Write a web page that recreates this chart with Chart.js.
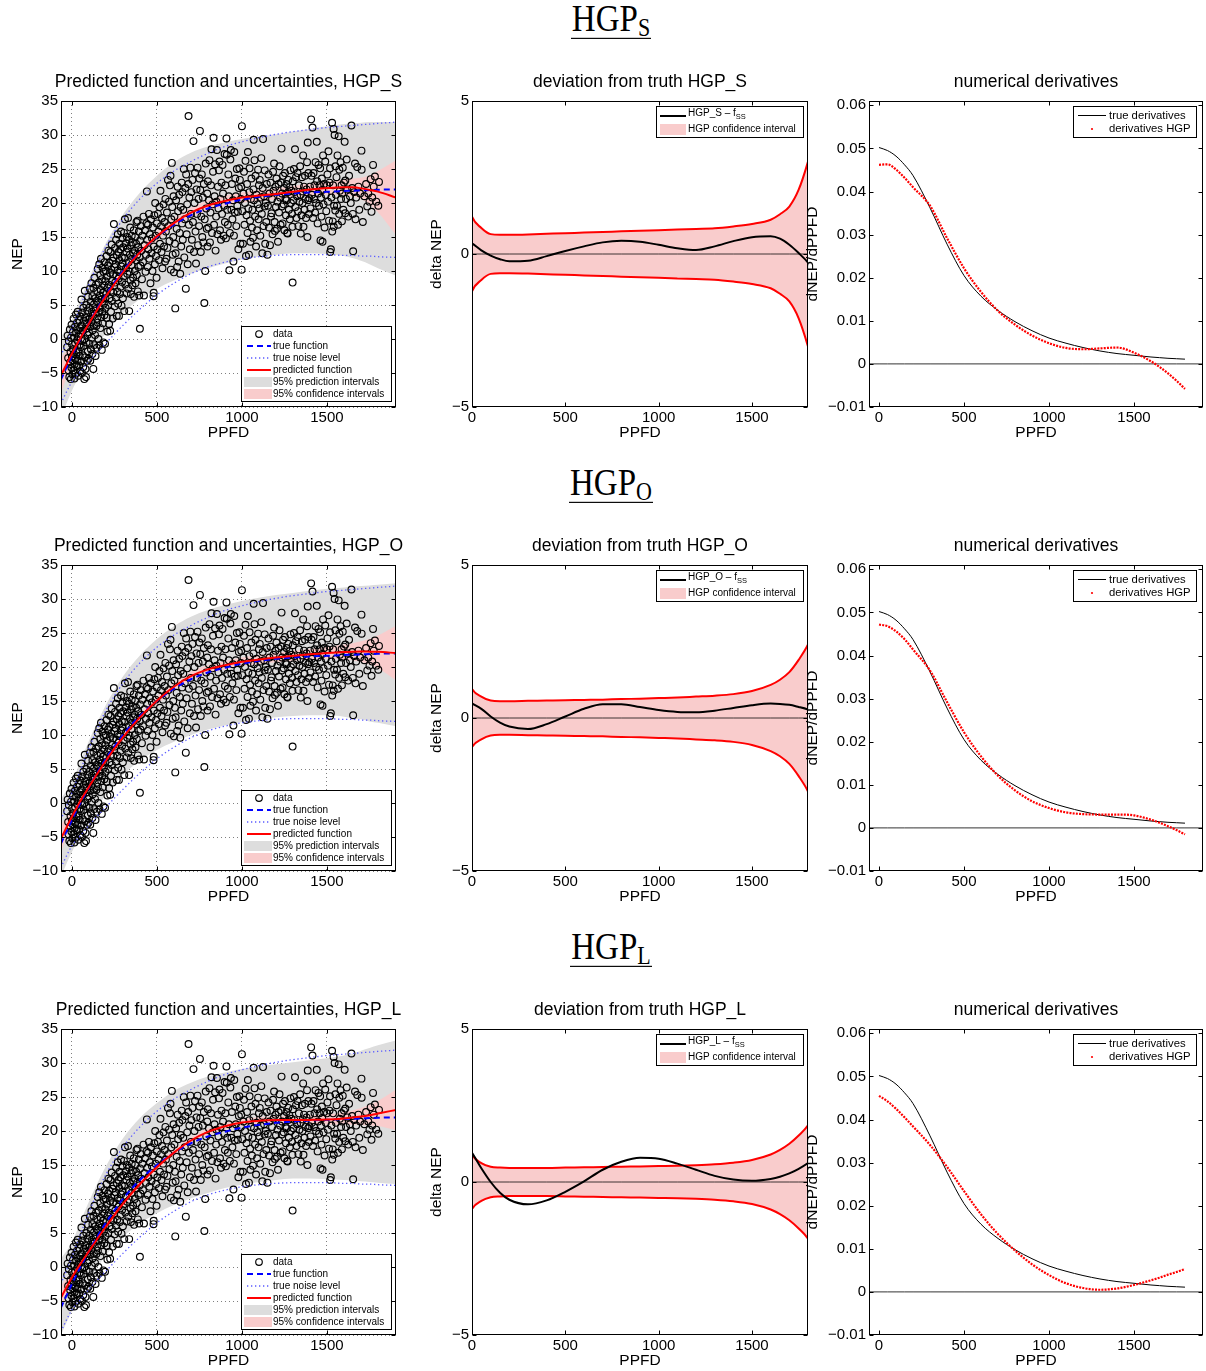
<!DOCTYPE html>
<html><head><meta charset="utf-8">
<script src="https://cdn.jsdelivr.net/npm/chart.js@4"></script>
<style>
html,body{margin:0;padding:0;background:#fff;}
body{width:1206px;height:1371px;overflow:hidden;position:relative;font-family:"Liberation Sans",Arial,sans-serif;}
canvas{position:absolute;}
.hdr{position:absolute;left:0;width:1222px;text-align:center;font-family:"Liberation Serif","DejaVu Serif",serif;color:#000;}
.hdr span{display:inline-block;font-size:33px;line-height:30px;padding:0 1px 2px 1px;border-bottom:1.5px solid #000;transform:scaleY(1.15);transform-origin:50% 0;}
.hdr sub{font-size:22px;line-height:0;vertical-align:baseline;position:relative;top:4px;}
</style>
</head><body>
<div class="hdr" style="top:1px"><span>HGP<sub>S</sub></span></div>
<div class="hdr" style="top:465px"><span>HGP<sub>O</sub></span></div>
<div class="hdr" style="top:929px"><span>HGP<sub>L</sub></span></div>
<script>
const FONT = '"Liberation Sans", Arial, Helvetica, sans-serif';

// ---------- tick labels ----------
const xTicksPPFD = [0, 500, 1000, 1500];
const yTicksNEP = [-10, -5, 0, 5, 10, 15, 20, 25, 30, 35];
const yTicksDelta = [-5, 0, 5];
const yTicksDeriv = [-0.01, 0, 0.01, 0.02, 0.03, 0.04, 0.05, 0.06];

// ---------- curve sample grid (PPFD) ----------
const X = [-65,0,50,100,150,200,300,400,500,600,700,800,900,1000,1100,1200,1300,1400,1500,1600,1650,1700,1750,1800,1906];

// true function and true noise level
const trueNEP  = [-6.0,-2.5,0.0,2.3,4.5,6.5,10.0,12.8,15.0,16.8,18.2,19.2,19.9,20.5,20.9,21.2,21.4,21.55,21.65,21.75,21.8,21.85,21.9,21.95,22.0];
const noiseUp  = [-2.5,1.5,4.8,8.0,11.0,13.6,17.6,20.6,22.9,24.7,26.1,27.3,28.3,29.0,29.6,30.1,30.5,30.8,31.1,31.3,31.4,31.5,31.6,31.7,31.9];
const noiseLo  = [-9.5,-6.3,-4.8,-3.3,-1.9,-0.6,2.0,4.4,6.5,8.2,9.6,10.6,11.3,11.8,12.1,12.3,12.4,12.4,12.4,12.3,12.3,12.2,12.2,12.1,12.0];

// deviation from truth (prediction - truth)
const diffS = [0.6,0.35,0.12,-0.05,-0.17,-0.24,-0.22,-0.07,0.10,0.25,0.38,0.43,0.40,0.30,0.19,0.13,0.25,0.42,0.55,0.58,0.50,0.30,0.03,-0.28,-1.2];
const diffO = [0.75,0.48,0.30,0.05,-0.15,-0.28,-0.36,-0.20,0.05,0.30,0.45,0.45,0.36,0.26,0.20,0.19,0.24,0.33,0.42,0.47,0.46,0.43,0.36,0.28,0.05];
const diffL = [1.45,0.95,0.45,0.0,-0.35,-0.58,-0.73,-0.60,-0.32,0.02,0.40,0.66,0.79,0.76,0.60,0.40,0.20,0.08,0.04,0.10,0.17,0.28,0.43,0.62,1.1];

// 95% confidence half-widths
const ciS = [2.7,1.22,0.85,0.65,0.63,0.63,0.64,0.66,0.68,0.70,0.72,0.74,0.76,0.78,0.80,0.82,0.84,0.90,0.98,1.12,1.30,1.55,2.10,3.02,5.5];
const ciO = [2.0,0.95,0.70,0.57,0.55,0.55,0.56,0.57,0.58,0.59,0.60,0.62,0.63,0.65,0.67,0.70,0.73,0.78,0.88,1.08,1.25,1.50,1.90,2.40,4.0];
const ciL = [1.8,0.88,0.62,0.50,0.47,0.46,0.46,0.46,0.47,0.48,0.49,0.50,0.51,0.52,0.53,0.55,0.58,0.63,0.72,0.90,1.05,1.25,1.52,1.85,3.0];

// 95% prediction intervals
const piUpS = [0.3,2.8,5.8,8.8,11.6,14.1,18.3,21.5,24.0,26.0,27.4,28.3,28.9,29.4,29.8,30.1,30.5,30.9,31.3,31.6,31.7,31.8,31.9,31.9,31.9];
const piLoS = [-11.5,-7.6,-5.1,-2.9,-0.9,0.9,3.8,5.9,7.4,8.6,9.6,10.4,11.1,11.7,12.1,12.4,12.6,12.6,12.5,12.2,11.9,11.5,11.0,10.4,9.3];
const piUpO = [0.6,3.1,6.1,9.1,11.9,14.4,18.6,21.7,24.1,26.0,27.4,28.4,29.1,29.7,30.2,30.6,30.9,31.2,31.5,31.7,31.8,31.9,32.0,32.1,32.3];
const piLoO = [-10.8,-7.2,-4.7,-2.5,-0.6,1.2,4.1,6.2,7.8,9.0,10.0,10.8,11.4,11.9,12.3,12.6,12.8,12.9,12.9,12.7,12.5,12.3,12.0,11.8,11.3];
const piUpL = [1.2,3.6,6.6,9.6,12.3,14.8,18.9,21.9,24.1,25.9,27.1,28.0,28.6,29.1,29.5,29.8,30.1,30.4,30.7,31.1,31.4,31.8,32.2,32.6,33.3];
const piLoL = [-10.0,-6.5,-4.0,-1.8,0.0,1.7,4.4,6.4,7.9,9.1,10.1,10.9,11.6,12.1,12.5,12.8,13.0,13.0,12.9,12.8,12.7,12.6,12.5,12.4,12.2];

// numerical derivatives
const XD = [0,50,100,150,200,300,400,500,600,700,800,900,1000,1100,1200,1300,1400,1500,1600,1650,1700,1750,1800];
const dTrue = [0.0502,0.0495,0.0482,0.0462,0.0437,0.0362,0.0278,0.0205,0.0157,0.0124,0.0098,0.0077,0.0060,0.0048,0.0038,0.0030,0.0024,0.0020,0.0016,0.00145,0.0013,0.0012,0.0011];
const dS = [0.0462,0.0463,0.0451,0.0432,0.0410,0.0367,0.0292,0.0222,0.0167,0.0123,0.0091,0.0066,0.0048,0.0037,0.0034,0.0036,0.0038,0.0026,0.0006,-0.0007,-0.0022,-0.0039,-0.0058];
const dO = [0.0472,0.0468,0.0456,0.0438,0.0414,0.0365,0.0292,0.0222,0.0166,0.0121,0.0087,0.0062,0.0046,0.0036,0.0032,0.0031,0.0031,0.0029,0.0019,0.0012,0.0004,-0.0005,-0.0015];
const dL = [0.0455,0.0442,0.0425,0.0405,0.0384,0.0341,0.0290,0.0234,0.0180,0.0134,0.0096,0.0064,0.0039,0.0020,0.0009,0.0005,0.0008,0.0016,0.0027,0.0033,0.0040,0.0046,0.0053];

// observed data [PPFD, NEP]
const obs = [
[-28,-1.2],[-25,0.5],[-22,-2.8],[-20,-4.6],[-18,-0.3],[-15,-5.6],[-12,1.4],[-10,-3.4],[-8,-1.9],[-6,-5.9],[-5,0.2],[-3,-4.2],[-2,2.1],[0,-2.6],[1,-0.8],
[3,-5.2],[4,-3.1],[6,1.0],[7,-1.5],[9,-4.6],[10,3.0],[12,-2.2],[13,0.2],[15,-5.8],[16,-3.7],[18,1.8],[19,-0.6],[21,-2.9],[22,-5.1],[24,3.6],[25,0.9],[27,-1.6],[28,-4.0],[30,2.4],[31,-0.2],[33,-3.2],[34,4.0],[36,1.3],[37,-5.4],[39,-1.9],[40,0.4],[42,-3.9],[43,2.8],[45,-0.9],[46,-2.5],[48,1.6],[49,-4.7],[50,3.3],
[52,-1.2],[53,0.8],[55,-3.3],[56,5.8],[58,2.0],[59,-5.0],[61,-0.3],[62,3.9],[64,-2.4],[65,1.2],[67,-4.1],[68,4.6],[70,-1.0],[71,2.7],[73,-5.9],[74,0.0],[76,7.1],[77,-2.7],[79,3.2],[80,-4.4],[82,1.5],[83,-5.6],[85,5.0],[86,-0.5],[88,2.3],[89,-3.2],[91,4.2],[92,0.6],[94,-1.8],[95,6.2],[97,2.9],[98,-2.9],[100,1.0],
[102,4.6],[103,-0.7],[105,3.0],[106,7.4],[108,-3.2],[109,1.8],[111,5.5],[112,-1.5],[114,2.5],[115,8.2],[117,0.2],[118,4.0],[120,-2.2],[121,6.3],[123,1.3],[124,3.4],[126,-4.4],[127,7.5],[129,2.0],[130,5.1],[132,-0.9],[133,9.0],[135,3.7],[136,0.6],[138,6.0],[139,-2.5],[141,4.4],[142,8.0],[144,1.9],[145,5.6],[147,-1.3],[148,3.0],[150,7.0],
[152,10.3],[153,2.4],[155,5.4],[156,0.0],[158,8.3],[159,3.9],[161,11.0],[162,-0.9],[164,6.4],[165,4.6],[167,9.4],[168,1.6],[170,7.2],[171,11.8],[173,3.2],[174,5.8],[176,-1.6],[177,8.8],[179,4.0],[180,10.5],[182,2.3],[183,6.8],[185,-0.5],[186,9.9],[188,5.2],[189,7.9],[191,3.5],[192,11.3],[194,6.0],[195,-0.7],[197,8.5],[198,4.6],[200,10.0],
[202,6.7],[204,12.2],[205,3.1],[207,9.2],[209,1.1],[210,7.5],[212,10.8],[214,5.0],[215,13.0],[217,8.0],[219,2.2],[220,11.2],[222,6.0],[224,9.7],[225,1.2],[227,12.8],[229,7.1],[230,4.0],[232,10.2],[234,13.9],[235,5.6],[237,8.6],[239,11.5],[240,3.0],[242,9.5],[244,6.8],[245,12.0],[247,16.9],[249,7.8],[250,10.6],
[252,4.8],[254,13.4],[255,8.3],[257,11.0],[259,6.1],[260,14.6],[262,9.3],[264,3.4],[265,12.3],[267,7.0],[269,10.1],[270,15.4],[272,5.2],[274,12.8],[275,8.9],[277,3.4],[279,11.6],[280,14.0],[282,6.6],[284,9.8],[285,13.2],[287,7.7],[289,15.8],[290,10.7],[292,4.9],[294,12.0],[295,8.4],[297,14.8],[299,11.1],[300,6.0],
[302,13.5],[304,9.2],[306,15.6],[308,4.1],[310,11.9],[312,17.6],[314,8.0],[316,14.1],[318,10.4],[320,12.8],[322,6.7],[324,15.0],[326,9.6],[328,13.3],[330,17.8],[332,7.4],[334,11.3],[336,14.6],[337,4.1],[339,9.9],[341,12.4],[343,16.4],[345,8.6],[347,6.6],[348,13.8],[350,10.9],
[352,15.2],[354,11.8],[356,7.9],[358,14.2],[360,9.0],[362,12.6],[364,16.0],[366,6.2],[368,13.0],[370,10.0],[372,15.0],[374,8.2],[376,11.6],[378,14.0],[380,17.2],[382,9.4],[384,12.4],[386,17.4],[388,7.0],[390,13.5],[392,10.6],[394,15.8],[396,6.4],[398,12.0],[400,1.5],[401,14.5],
[403,10.8],[406,16.6],[409,13.0],[412,8.8],[415,15.2],[418,11.3],[421,18.0],[424,6.4],[427,13.8],[430,16.0],[433,9.9],[436,12.4],[439,17.0],[441,21.7],[443,14.6],[446,10.6],[448,16.8],[450,13.2],
[453,18.4],[456,11.8],[459,15.4],[462,8.2],[465,17.6],[468,12.6],[471,14.8],[474,10.0],[477,16.4],[480,6.3],[481,6.8],[482,13.6],[485,18.2],[488,11.0],[490,20.0],[492,15.2],[495,12.2],[498,9.0],[500,17.0],
[503,13.2],[506,18.4],[509,15.8],[512,11.6],[515,19.4],[518,14.0],[521,21.8],[524,16.6],[527,12.8],[530,17.8],[533,10.4],[536,15.2],[539,19.8],[542,13.6],[545,17.2],[548,11.4],[550,20.6],
[553,15.8],[556,11.8],[559,18.6],[562,13.4],[565,23.4],[568,16.6],[571,20.2],[574,14.4],[577,22.6],[580,24.0],[582,10.2],[585,17.6],[588,25.9],[590,19.4],[593,12.4],[596,15.0],[598,21.0],[600,9.8],
[603,18.0],[606,14.0],[608,4.5],[610,12.6],[613,20.4],[616,16.2],[619,10.6],[622,22.4],[625,18.8],[628,11.4],[631,21.2],[634,15.6],[637,9.6],[640,19.4],[643,13.6],[646,23.0],[648,17.0],[650,21.6],
[652,14.6],[655,19.0],[658,25.0],[661,12.0],[664,17.6],[667,22.2],[670,7.4],[672,24.2],[675,15.4],[678,19.8],[681,11.0],[684,22.8],[686,32.8],[688,16.8],[691,20.8],[694,13.2],[697,25.2],[700,18.4],
[703,21.6],[706,14.6],[709,23.4],[712,17.2],[715,29.1],[718,12.8],[721,20.0],[724,24.4],[727,15.8],[730,11.1],[733,22.0],[736,18.4],[739,25.2],[742,13.8],[745,20.6],[748,16.6],[750,23.6],
[753,30.6],[755,21.9],[758,12.8],[761,18.0],[764,24.2],[767,15.0],[770,20.8],[773,14.2],[776,22.8],[779,5.3],[781,17.6],[784,10.0],[787,25.8],[790,19.2],[793,16.2],[796,21.4],[798,13.6],[800,23.2],
[803,16.4],[806,20.4],[809,26.3],[812,14.2],[815,18.6],[818,22.6],[821,27.9],[824,15.6],[827,19.8],[830,24.6],[833,29.6],[836,16.8],[839,21.0],[842,25.7],[845,13.0],[848,18.0],[850,20.2],
[853,27.8],[856,15.4],[859,22.4],[862,19.2],[865,24.8],[868,26.1],[871,16.0],[874,20.6],[877,14.6],[880,23.0],[883,18.4],[886,25.6],[889,21.4],[892,15.2],[895,19.6],[898,27.2],[900,17.2],
[903,22.6],[906,14.8],[909,29.5],[911,27.1],[914,19.0],[917,16.8],[920,24.2],[923,21.0],[926,10.1],[929,15.6],[932,26.4],[935,27.8],[938,19.0],[941,22.8],[944,17.6],[947,20.4],[950,11.4],
[953,15.2],[955,27.5],[958,18.6],[961,23.6],[964,21.0],[967,16.6],[970,25.0],[973,19.6],[976,18.7],[979,13.2],[982,22.2],[985,25.1],[988,23.4],[991,14.0],[994,20.6],[996,22.4],[998,10.2],[1000,31.3],
[1003,18.8],[1006,14.0],[1009,21.4],[1012,24.6],[1015,16.8],[1018,20.0],[1021,26.2],[1024,12.2],[1027,18.2],[1030,22.8],[1033,15.6],[1035,27.5],[1038,19.2],[1041,12.4],[1044,21.6],[1045,25.1],[1048,17.4],[1050,14.3],
[1053,20.6],[1056,23.6],[1059,16.4],[1062,19.0],[1065,14.9],[1068,22.0],[1069,29.3],[1071,20.4],[1074,26.3],[1077,18.0],[1080,24.0],[1083,13.6],[1086,21.2],[1089,16.0],[1092,19.8],[1095,24.9],[1098,17.6],[1100,22.6],
[1103,19.2],[1105,23.4],[1108,15.2],[1111,20.8],[1114,26.6],[1117,18.4],[1120,12.6],[1122,22.2],[1124,29.4],[1127,16.6],[1130,21.0],[1133,19.5],[1134,24.8],[1137,14.0],[1140,20.0],[1143,17.2],[1146,22.8],[1150,12.4],
[1153,19.6],[1156,24.2],[1159,16.4],[1162,21.4],[1165,13.8],[1168,23.0],[1171,18.0],[1174,18.5],[1177,20.6],[1180,15.4],[1183,24.6],[1186,21.8],[1189,25.8],[1192,17.2],[1194,15.9],[1197,22.4],[1200,19.4],
[1203,23.6],[1206,16.2],[1209,20.2],[1212,14.3],[1215,22.8],[1218,18.6],[1221,25.4],[1224,20.8],[1227,16.8],[1230,23.0],[1233,28.0],[1234,19.5],[1236,21.4],[1239,17.0],[1242,24.0],[1245,19.8],[1248,22.2],[1250,16.0],
[1253,24.4],[1256,20.6],[1259,18.2],[1262,22.8],[1263,20.4],[1266,15.6],[1269,15.5],[1272,21.6],[1273,23.4],[1276,19.0],[1279,22.3],[1282,17.6],[1285,24.8],[1288,20.0],[1291,21.8],[1294,18.4],[1297,16.5],[1298,8.3],[1300,23.2],
[1303,20.4],[1306,25.0],[1309,21.6],[1312,27.9],[1315,19.4],[1318,23.8],[1321,17.8],[1324,21.0],[1327,24.4],[1330,18.8],[1332,16.6],[1335,22.6],[1338,20.2],[1342,25.4],[1345,21.2],[1346,15.5],[1350,18.2],
[1353,23.8],[1356,20.0],[1358,21.7],[1360,27.0],[1362,16.5],[1365,22.4],[1368,19.0],[1371,24.0],[1374,20.6],[1377,17.8],[1380,22.0],[1383,26.0],[1385,15.0],[1387,28.9],[1390,20.4],[1391,24.4],[1394,18.4],[1397,20.7],[1400,22.4],
[1403,19.2],[1407,32.3],[1409,24.0],[1412,21.2],[1415,31.1],[1418,17.8],[1421,24.4],[1424,20.6],[1427,22.6],[1430,18.6],[1433,26.0],[1436,20.0],[1440,29.0],[1442,23.2],[1445,17.0],[1448,21.4],[1450,25.6],
[1453,19.6],[1456,22.6],[1460,25.1],[1462,14.5],[1465,20.8],[1468,18.0],[1470,23.6],[1472,21.9],[1474,14.3],[1477,27.0],[1480,19.8],[1483,22.8],[1486,16.4],[1490,26.1],[1493,21.2],[1496,18.8],[1500,22.6],
[1503,24.2],[1506,20.2],[1509,27.6],[1512,17.4],[1515,23.0],[1518,25.1],[1519,12.8],[1523,13.2],[1526,20.8],[1530,31.8],[1531,15.8],[1534,17.3],[1536,22.6],[1539,30.9],[1540,16.5],[1542,19.6],[1545,30.0],[1549,18.9],[1550,25.4],
[1553,21.2],[1556,23.8],[1559,19.6],[1562,27.0],[1565,16.8],[1569,29.8],[1572,18.4],[1573,24.9],[1576,21.8],[1580,26.0],[1583,20.6],[1586,22.6],[1588,17.3],[1589,21.4],[1593,25.2],[1596,19.0],[1600,23.0],
[1604,29.0],[1607,18.5],[1608,23.3],[1612,20.6],[1616,26.4],[1620,22.0],[1625,18.0],[1630,24.0],[1635,21.0],[1640,20.0],[1644,31.4],[1648,22.2],[1652,18.4],[1654,12.9],[1660,21.6],[1665,25.8],[1668,17.6],[1672,20.8],[1678,25.3],[1685,22.4],[1690,19.0],[1695,21.4],[1703,27.7],[1704,24.9],
[1711,17.2],[1720,21.0],[1730,22.8],[1737,19.5],[1743,21.4],[1750,20.2],[1757,23.5],[1762,18.7],[1766,20.8],[1771,25.6],[1775,22.4],[1782,23.9],[1790,20.2],[1802,19.6],[1806,23.1]
];

// ---------- helpers ----------
const pts = (xs, ys) => xs.map((x, i) => ({x: x, y: ys[i]}));
const add = (a, b, s) => a.map((v, i) => v + s * b[i]);
function fmtTick(v, dec) {
  if (Math.abs(v) < 1e-9) return '0';
  return v.toFixed(dec).replace('-', '\u2212');
}
const CH = 385, XAXIS_H = 38, TOP_PAD = 41;
const PINK = 'rgb(249,204,204)', GRAY = 'rgb(221,221,221)';

function mkCanvas(left, top, w) {
  const c = document.createElement('canvas');
  c.width = w; c.height = CH;
  c.style.left = left + 'px'; c.style.top = top + 'px';
  c.style.width = w + 'px'; c.style.height = CH + 'px';
  document.body.appendChild(c);
  return c;
}

function axisX(min, max, showGrid) {
  return {
    type: 'linear', min: min, max: max,
    afterBuildTicks: s => { s.ticks = xTicksPPFD.map(v => ({value: v})); },
    afterFit: s => { s.height = XAXIS_H; },
    grid: {display: showGrid, drawTicks: false, color: 'rgba(0,0,0,0.5)', lineWidth: 1},
    border: {display: false, dash: [1, 3]},
    ticks: {padding: 2, color: '#000', font: {family: FONT, size: 15}, maxRotation: 0, autoSkip: false, callback: v => fmtTick(v, 0)},
    title: {display: true, text: 'PPFD', color: '#000', font: {family: FONT, size: 15.5}, padding: {top: 0, bottom: 3}}
  };
}
function axisY(min, max, tickArr, dec, width, title, titlePad, showGrid) {
  return {
    type: 'linear', min: min, max: max,
    afterBuildTicks: s => { s.ticks = tickArr.map(v => ({value: v})); },
    afterFit: s => { s.width = width; },
    grid: {display: showGrid, drawTicks: false, color: 'rgba(0,0,0,0.5)', lineWidth: 1},
    border: {display: false, dash: [1, 3]},
    ticks: {padding: 3, color: '#000', font: {family: FONT, size: 15}, autoSkip: false, callback: v => fmtTick(v, dec)},
    title: {display: true, text: title, color: '#000', font: {family: FONT, size: 15.5}, padding: {top: titlePad, bottom: 0}}
  };
}

function hline(ctx, x1, x2, y) { ctx.beginPath(); ctx.moveTo(x1, y); ctx.lineTo(x2, y); ctx.stroke(); }

function legendLeft(ctx, a) {
  const w = 150, h = 75;
  const bx = Math.round(a.right) - 5 - w, by = Math.round(a.bottom) - 6 - h;
  ctx.fillStyle = '#fff'; ctx.fillRect(bx, by, w, h);
  ctx.strokeStyle = '#000'; ctx.lineWidth = 1; ctx.setLineDash([]);
  ctx.strokeRect(bx + 0.5, by + 0.5, w, h);
  const ry = i => by + 8 + 12 * i;
  ctx.lineWidth = 1.15;
  ctx.beginPath(); ctx.arc(bx + 18, ry(0), 3.3, 0, 2 * Math.PI); ctx.stroke();
  ctx.strokeStyle = '#0000ff'; ctx.lineWidth = 2; ctx.setLineDash([6, 4]); hline(ctx, bx + 6, bx + 30, ry(1));
  ctx.strokeStyle = 'rgb(90,90,255)'; ctx.lineWidth = 1.3; ctx.setLineDash([1.3, 2.7]); hline(ctx, bx + 6, bx + 30, ry(2));
  ctx.setLineDash([]); ctx.strokeStyle = '#ff0000'; ctx.lineWidth = 2; hline(ctx, bx + 6, bx + 30, ry(3));
  ctx.fillStyle = GRAY; ctx.fillRect(bx + 3, ry(4) - 5, 28, 10);
  ctx.fillStyle = PINK; ctx.fillRect(bx + 3, ry(5) - 5, 28, 10);
  ctx.fillStyle = '#000'; ctx.font = '10px ' + FONT; ctx.textBaseline = 'middle'; ctx.textAlign = 'left';
  ['data', 'true function', 'true noise level', 'predicted function', '95% prediction intervals', '95% confidence intervals']
    .forEach((t, i) => ctx.fillText(t, bx + 32, ry(i) + 0.5));
}
function legendMid(ctx, a, name) {
  const w = 147, h = 31;
  const bx = Math.round(a.right) - 5 - w, by = Math.round(a.top) + 5;
  ctx.fillStyle = '#fff'; ctx.fillRect(bx, by, w, h);
  ctx.strokeStyle = '#000'; ctx.lineWidth = 1; ctx.setLineDash([]);
  ctx.strokeRect(bx + 0.5, by + 0.5, w, h);
  ctx.lineWidth = 2; hline(ctx, bx + 4, bx + 30, by + 10);
  ctx.fillStyle = PINK; ctx.fillRect(bx + 4, by + 18, 26, 11);
  ctx.fillStyle = '#000'; ctx.textBaseline = 'middle'; ctx.textAlign = 'left';
  ctx.font = '10px ' + FONT;
  const t1 = 'HGP_' + name + ' \u2013 f';
  ctx.fillText(t1, bx + 32, by + 7);
  const w1 = ctx.measureText(t1).width;
  ctx.font = '7.5px ' + FONT;
  ctx.fillText('SS', bx + 32 + w1, by + 11);
  ctx.font = '10px ' + FONT;
  ctx.fillText('HGP confidence interval', bx + 32, by + 23.5);
}
function legendRight(ctx, a) {
  const w = 123, h = 31;
  const bx = Math.round(a.right) - 7 - w, by = Math.round(a.top) + 5;
  ctx.fillStyle = '#fff'; ctx.fillRect(bx, by, w, h);
  ctx.strokeStyle = '#000'; ctx.lineWidth = 1; ctx.setLineDash([]);
  ctx.strokeRect(bx + 0.5, by + 0.5, w, h);
  hline(ctx, bx + 5, bx + 33, by + 9.5);
  ctx.fillStyle = '#ff0000'; ctx.beginPath(); ctx.arc(bx + 19, by + 23, 1.1, 0, 2 * Math.PI); ctx.fill();
  ctx.fillStyle = '#000'; ctx.textBaseline = 'middle'; ctx.textAlign = 'left';
  ctx.font = '11.3px ' + FONT;
  ctx.fillText('true derivatives', bx + 36, by + 9.5);
  ctx.fillText('derivatives HGP', bx + 36, by + 23);
}

const mlab = {
  id: 'mlab',
  afterDraw(chart, args, opts) {
    const ctx = chart.ctx, a = chart.chartArea, xs = chart.scales.x, ys = chart.scales.y;
    ctx.save();
    ctx.strokeStyle = '#000'; ctx.lineWidth = 1; ctx.setLineDash([]);
    const L = Math.round(a.left) + 0.5, R = Math.round(a.right) - 0.5, T = Math.round(a.top) + 0.5, B = Math.round(a.bottom) - 0.5;
    ctx.beginPath();
    xs.ticks.forEach(t => { const p = Math.round(xs.getPixelForValue(t.value)) + 0.5; ctx.moveTo(p, B); ctx.lineTo(p, B - 4); ctx.moveTo(p, T); ctx.lineTo(p, T + 4); });
    ys.ticks.forEach(t => { const p = Math.round(ys.getPixelForValue(t.value)) + 0.5; ctx.moveTo(L, p); ctx.lineTo(L + 4, p); ctx.moveTo(R, p); ctx.lineTo(R - 4, p); });
    ctx.stroke();
    ctx.strokeRect(L, T, R - L, B - T);
    // panel title, centred over the plot area
    ctx.fillStyle = '#000'; ctx.textAlign = 'center'; ctx.textBaseline = 'middle';
    ctx.font = opts.titleSize + 'px ' + FONT;
    ctx.fillText(opts.title, (a.left + a.right) / 2, a.top - 18.5);
    if (opts.kind === 'left') legendLeft(ctx, a);
    if (opts.kind === 'mid') legendMid(ctx, a, opts.name);
    if (opts.kind === 'right') legendRight(ctx, a);
    ctx.restore();
  }
};

function baseOpts(title, titleSize, padRight, xScale, yScale, kind, name) {
  return {
    responsive: false, animation: false, events: [],
    layout: {padding: {left: 0, right: padRight, top: TOP_PAD, bottom: 0}, autoPadding: false},
    plugins: {
      legend: {display: false}, tooltip: {enabled: false}, title: {display: false},
      mlab: {kind: kind, name: name, title: title, titleSize: titleSize}
    },
    scales: {x: xScale, y: yScale}
  };
}
const lineDS = (data, color, width, extra) => Object.assign({type: 'line', data: data, borderColor: color, borderWidth: width, pointRadius: 0, fill: false, cubicInterpolationMode: 'monotone'}, extra || {});

const rows = [
  {name: 'S', diff: diffS, ci: ciS, piUp: piUpS, piLo: piLoS, deriv: dS},
  {name: 'O', diff: diffO, ci: ciO, piUp: piUpO, piLo: piLoO, deriv: dO},
  {name: 'L', diff: diffL, ci: ciL, piUp: piUpL, piLo: piLoL, deriv: dL}
];
const obsPts = obs.map(p => ({x: p[0], y: p[1]}));

rows.forEach((r, k) => {
  const top = 60 + 464 * k;
  const pred = add(trueNEP, r.diff, 1);
  const zeros = X.map(() => 0);
  const negCi = r.ci.map(v => -v);

  // ---- left: predicted function and uncertainties ----
  new Chart(mkCanvas(0, top, 420), {
    type: 'line',
    data: {datasets: [
      lineDS(pts(X, r.piUp), GRAY, 0, {fill: 1, backgroundColor: GRAY, order: 10}),
      lineDS(pts(X, r.piLo), GRAY, 0, {order: 10}),
      lineDS(pts(X, add(pred, r.ci, 1)), PINK, 0, {fill: 3, backgroundColor: PINK, order: 9}),
      lineDS(pts(X, add(pred, r.ci, -1)), PINK, 0, {order: 9}),
      {type: 'line', data: obsPts, showLine: false, pointRadius: 3.4, pointBorderWidth: 1.15, pointBorderColor: '#000', pointBackgroundColor: 'rgba(0,0,0,0)', order: 8},
      lineDS(pts(X, noiseUp), 'rgb(90,90,255)', 1.3, {borderDash: [1.3, 2.7], order: 7}),
      lineDS(pts(X, noiseLo), 'rgb(90,90,255)', 1.3, {borderDash: [1.3, 2.7], order: 7}),
      lineDS(pts(X, trueNEP), '#0000ff', 2, {borderDash: [6, 4], order: 6}),
      lineDS(pts(X, pred), '#ff0000', 2, {order: 5})
    ]},
    options: baseOpts('Predicted function and uncertainties, HGP_' + r.name, 17.5, 24,
      axisX(-64, 1906, true), axisY(-10, 35, yTicksNEP, 0, 61, 'NEP', 8.7, true), 'left', r.name),
    plugins: [mlab]
  });

  // ---- middle: deviation from truth ----
  new Chart(mkCanvas(420, top, 400), {
    type: 'line',
    data: {datasets: [
      lineDS(pts(X, r.ci), PINK, 0, {fill: 1, backgroundColor: PINK, order: 6}),
      lineDS(pts(X, negCi), PINK, 0, {order: 6}),
      lineDS(pts(X, zeros), 'rgba(0,0,0,0.75)', 1, {order: 5}),
      lineDS(pts(X, r.ci), '#ff0000', 2, {order: 4}),
      lineDS(pts(X, negCi), '#ff0000', 2, {order: 4}),
      lineDS(pts(X, r.diff), '#000', 2, {order: 1})
    ]},
    options: baseOpts('deviation from truth HGP_' + r.name, 17.5, 12,
      axisX(0, 1800, false), axisY(-5, 5, yTicksDelta, 0, 52, 'delta NEP', 7.7, false), 'mid', r.name),
    plugins: [mlab]
  });

  // ---- right: numerical derivatives ----
  new Chart(mkCanvas(800, top, 406), {
    type: 'line',
    data: {datasets: [
      lineDS(pts(X, zeros), 'rgba(0,0,0,0.8)', 1, {order: 3}),
      lineDS(pts(XD, dTrue), '#000', 1, {order: 2}),
      lineDS(pts(XD, r.deriv), '#ff0000', 2.2, {borderDash: [2, 1.2], order: 1})
    ]},
    options: baseOpts('numerical derivatives', 17.5, 3,
      axisX(-59, 1906, false), axisY(-0.01, 0.061, yTicksDeriv, 2, 69, 'dNEP/dPPFD', 3.5, false), 'right', r.name),
    plugins: [mlab]
  });
});
</script>
</body></html>
